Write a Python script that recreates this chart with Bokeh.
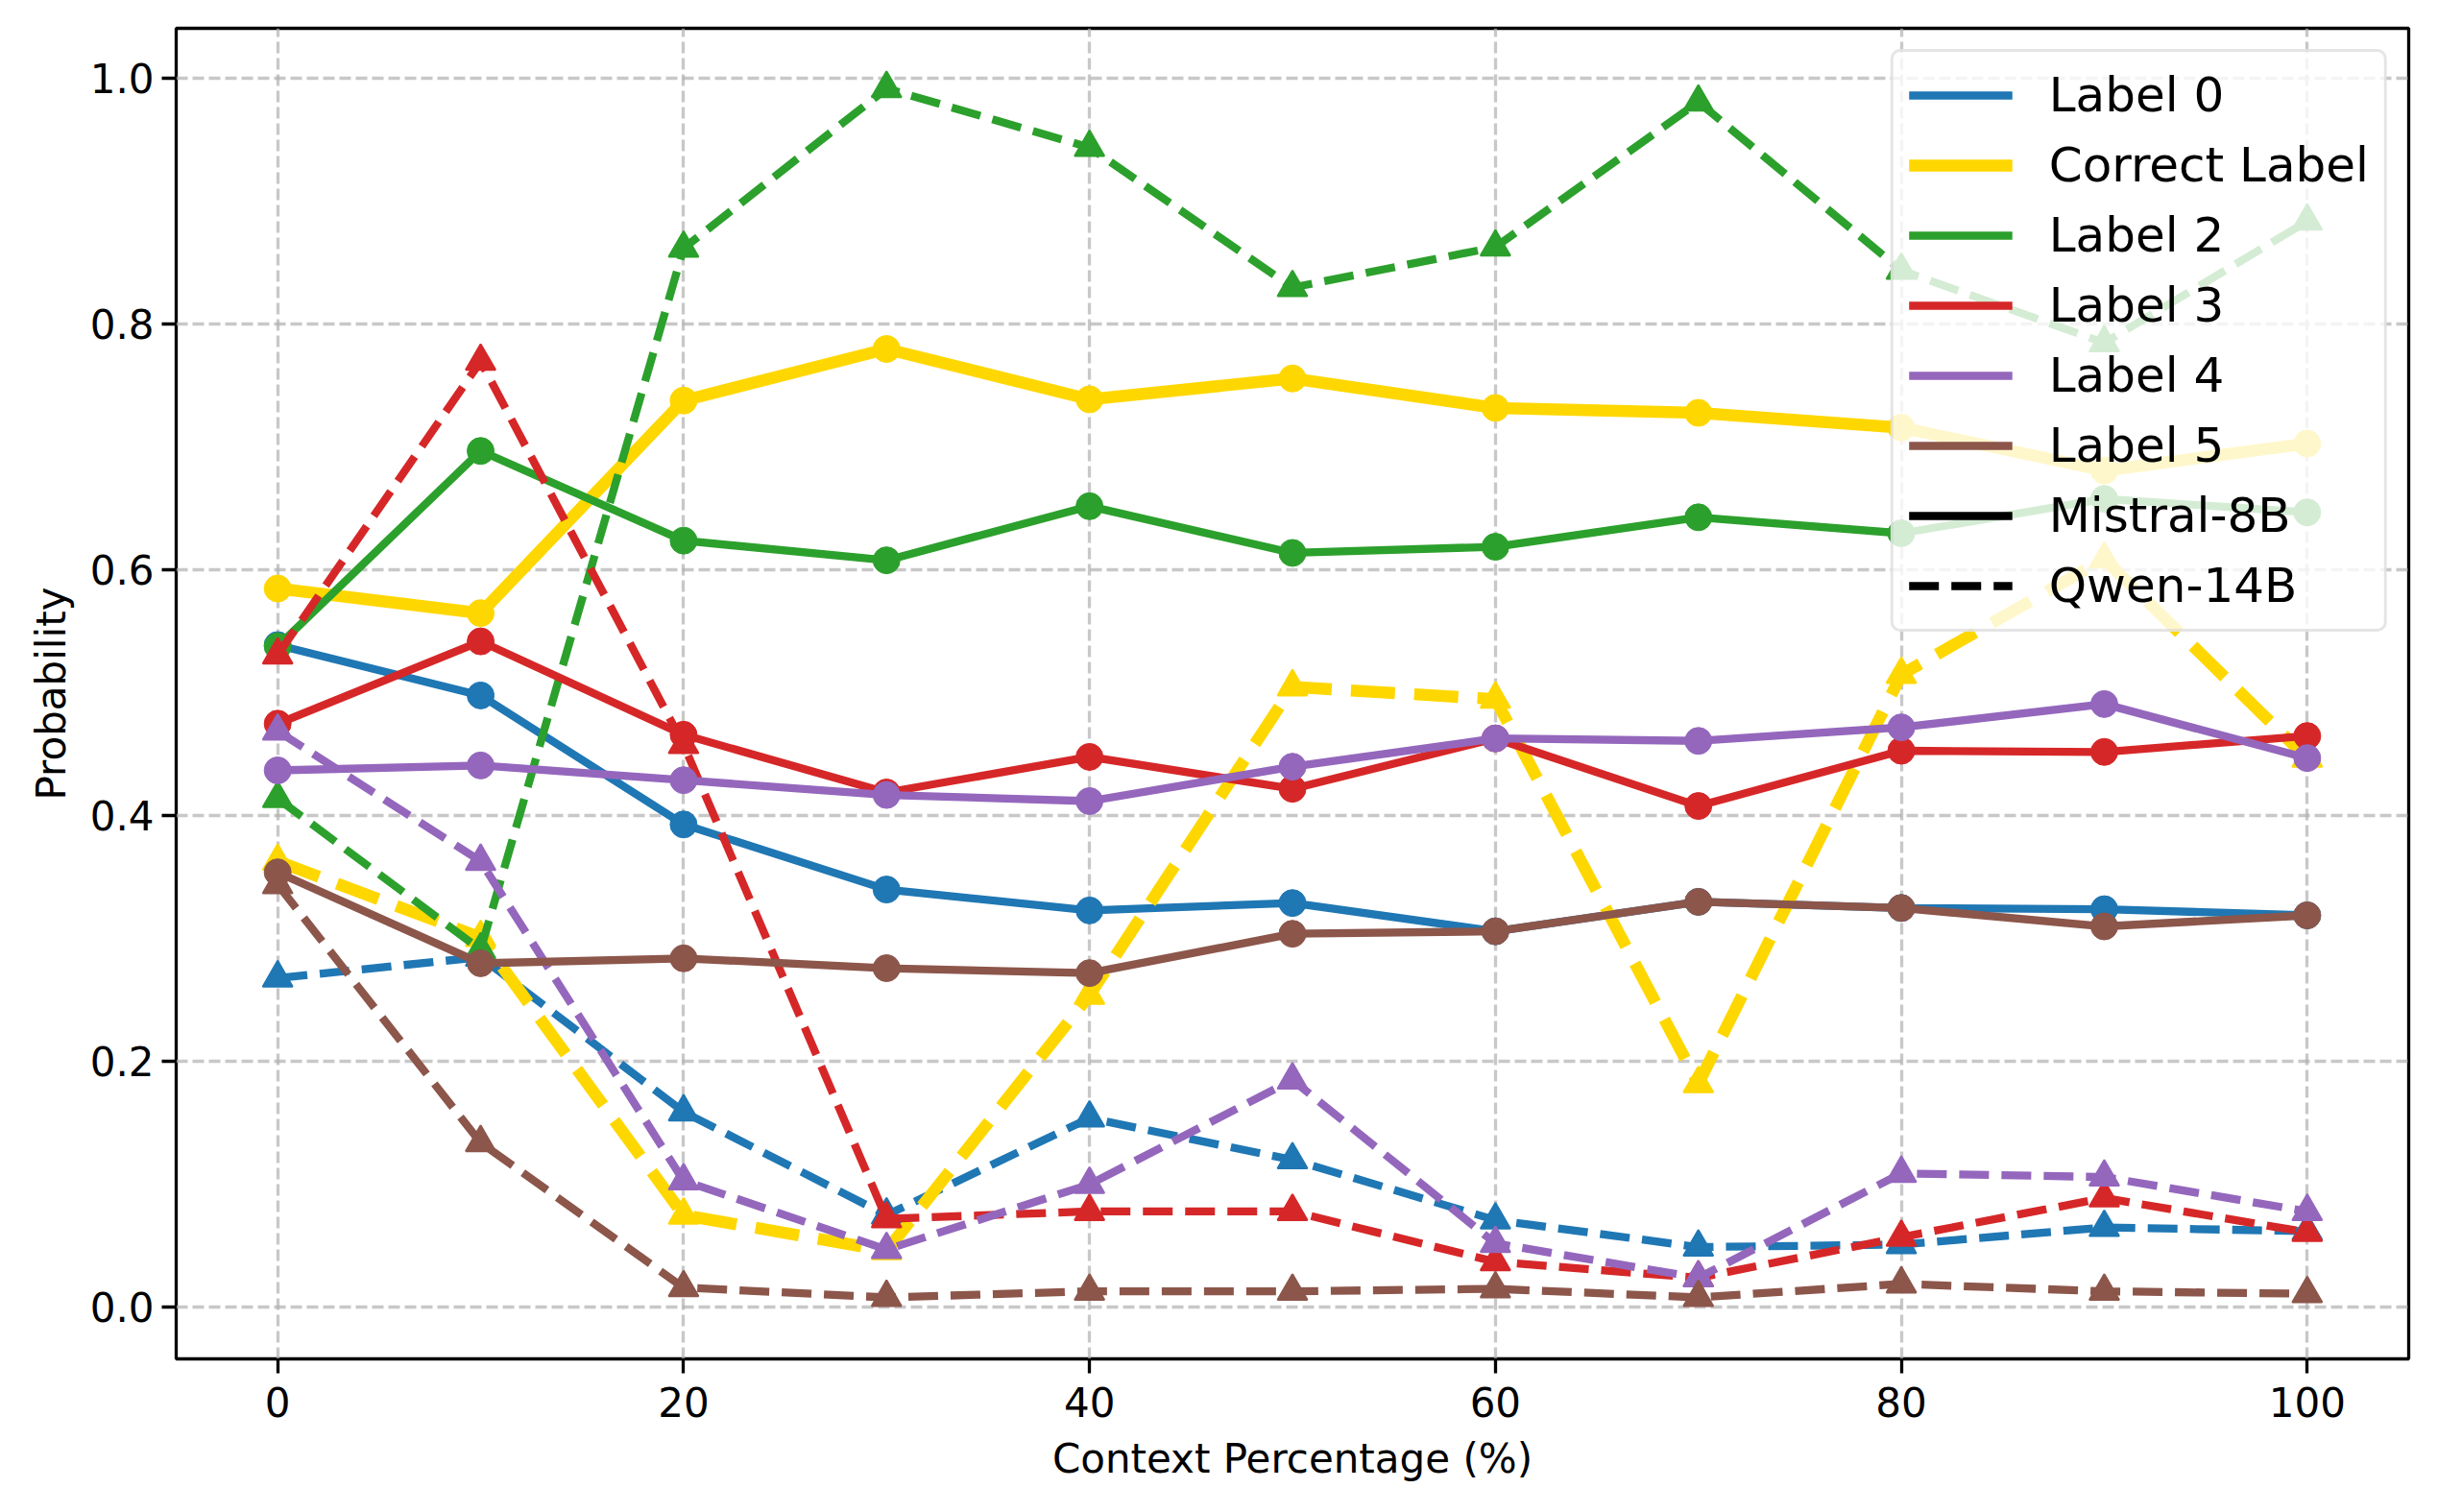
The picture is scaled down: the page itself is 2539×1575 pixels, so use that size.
from bokeh.plotting import figure
from bokeh.models import Range1d, FixedTicker, PrintfTickFormatter, Legend, LegendItem
from bokeh.embed import file_html
from bokeh.resources import INLINE

# ---- data ----
context_pct = [0, 10, 20, 30, 40, 50, 60, 70, 80, 90, 100]

label_names = ["Label 0", "Correct Label", "Label 2", "Label 3", "Label 4", "Label 5"]
label_colors = ["#1f77b4", "#FFD700", "#2ca02c", "#d62728", "#9467bd", "#8c564b"]

mistral_l0 = [0.539, 0.498, 0.393, 0.340, 0.323, 0.329, 0.306, 0.330, 0.325, 0.324, 0.319]
mistral_l1 = [0.585, 0.565, 0.738, 0.780, 0.739, 0.756, 0.732, 0.728, 0.716, 0.681, 0.703]
mistral_l2 = [0.538, 0.697, 0.624, 0.608, 0.652, 0.614, 0.619, 0.643, 0.630, 0.658, 0.647]
mistral_l3 = [0.475, 0.542, 0.466, 0.419, 0.448, 0.422, 0.463, 0.408, 0.453, 0.452, 0.465]
mistral_l4 = [0.437, 0.441, 0.429, 0.417, 0.412, 0.440, 0.463, 0.461, 0.472, 0.491, 0.447]
mistral_l5 = [0.354, 0.280, 0.284, 0.276, 0.272, 0.304, 0.306, 0.330, 0.325, 0.310, 0.319]

qwen_l0 = [0.268, 0.285, 0.159, 0.075, 0.154, 0.120, 0.071, 0.049, 0.051, 0.065, 0.062]
qwen_l1 = [0.363, 0.301, 0.075, 0.046, 0.254, 0.505, 0.495, 0.182, 0.515, 0.609, 0.447]
qwen_l2 = [0.414, 0.291, 0.862, 0.992, 0.944, 0.830, 0.863, 0.981, 0.844, 0.785, 0.884]
qwen_l3 = [0.531, 0.770, 0.458, 0.072, 0.078, 0.078, 0.037, 0.024, 0.057, 0.089, 0.061]
qwen_l4 = [0.469, 0.363, 0.103, 0.047, 0.100, 0.185, 0.052, 0.024, 0.109, 0.106, 0.078]
qwen_l5 = [0.344, 0.134, 0.016, 0.008, 0.013, 0.013, 0.015, 0.008, 0.019, 0.013, 0.011]

mistral = [mistral_l0, mistral_l1, mistral_l2, mistral_l3, mistral_l4, mistral_l5]
qwen = [qwen_l0, qwen_l1, qwen_l2, qwen_l3, qwen_l4, qwen_l5]
model_names = ["Mistral-8B", "Qwen-14B"]

x_ticks = [0, 20, 40, 60, 80, 100]
y_ticks = [0.0, 0.2, 0.4, 0.6, 0.8, 1.0]

FONT = "DejaVu Sans"

p = figure(
    frame_width=2325, frame_height=1386,
    min_border_left=183, min_border_right=15, min_border_top=29, min_border_bottom=144,
    x_range=Range1d(-5, 105), y_range=Range1d(-0.042, 1.041),
    output_backend="svg", toolbar_location=None,
    background_fill_color="white", border_fill_color="white",
)

p.outline_line_color = "black"
p.outline_line_width = 3.3

for ax in (p.xaxis[0], p.yaxis[0]):
    ax.axis_line_color = None
    ax.major_tick_out = 15
    ax.major_tick_in = 0
    ax.major_tick_line_width = 3.3
    ax.major_tick_line_color = "black"
    ax.minor_tick_line_color = None
    ax.major_label_text_font = FONT
    ax.major_label_text_font_size = "42px"
    ax.major_label_text_color = "black"
    ax.axis_label_text_font = FONT
    ax.axis_label_text_font_size = "42px"
    ax.axis_label_text_font_style = "normal"
    ax.axis_label_text_color = "black"

p.xaxis[0].major_label_standoff = 14
p.xaxis[0].axis_label_standoff = 16
p.yaxis[0].major_label_standoff = 8
p.yaxis[0].axis_label_standoff = 13

p.xaxis[0].ticker = FixedTicker(ticks=x_ticks)
p.yaxis[0].ticker = FixedTicker(ticks=y_ticks)
p.yaxis[0].formatter = PrintfTickFormatter(format="%.1f")
p.xaxis[0].axis_label = "Context Percentage (%)"
p.yaxis[0].axis_label = "Probability"

for g in (p.xgrid[0], p.ygrid[0]):
    g.grid_line_color = "#b0b0b0"
    g.grid_line_alpha = 0.7
    g.grid_line_width = 3.3
    g.grid_line_dash = "12 5"

solid_lines = []
for i in range(6):
    c = label_colors[i]
    lw = 12.5 if i == 1 else 8.3
    dash = "46 20" if i == 1 else "31 13"
    r = p.line(context_pct, mistral[i], line_color=c, line_width=lw)
    solid_lines.append(r)
    p.scatter(context_pct, mistral[i], marker="circle", size=28,
              fill_color=c, line_color=c, line_width=1)
    p.line(context_pct, qwen[i], line_color=c, line_width=lw, line_dash=dash)
    p.scatter(context_pct, qwen[i], marker="triangle", size=31,
              fill_color=c, line_color=c, line_width=2)

# legend: colour items use the solid line renderers; model items use off-screen proxies
items = [LegendItem(label=label_names[i], renderers=[solid_lines[i]]) for i in range(6)]
proxy_x = [-200, -190]
proxy_y = [-5, -5]
r_m = p.line(proxy_x, proxy_y, line_color="black", line_width=8.3)
r_q = p.line(proxy_x, proxy_y, line_color="black", line_width=8.3, line_dash="31 13")
items.append(LegendItem(label=model_names[0], renderers=[r_m]))
items.append(LegendItem(label=model_names[1], renderers=[r_q]))

legend = Legend(
    items=items, location="top_right",
    label_text_font=FONT, label_text_font_size="50px", label_text_color="black",
    glyph_width=108, glyph_height=50, label_height=50, spacing=15,
    padding=16, label_standoff=38, margin=22,
    border_line_color="#cccccc", border_line_width=3,
    background_fill_color="white", background_fill_alpha=0.8,
)
try:
    legend.border_radius = 10
except Exception:
    pass
p.add_layout(legend)

open("out.html", "w").write(file_html(p, INLINE))
